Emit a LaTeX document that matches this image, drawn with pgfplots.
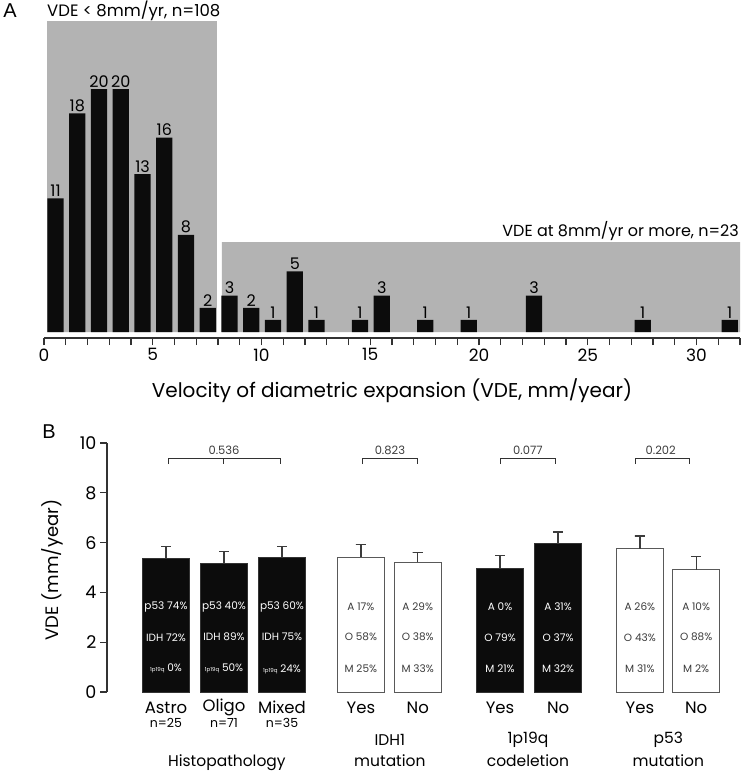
\documentclass[border=0pt]{standalone}
\usepackage{fontspec}
\setmainfont{Poppins}
\newfontfamily\panelfont{Liberation Sans}
\usepackage{pgfplots}
\pgfplotsset{compat=1.18}
\definecolor{boxgray}{RGB}{179,179,179}
\definecolor{barblack}{RGB}{12,12,12}
\definecolor{axgray}{RGB}{50,50,50}
\definecolor{txtgray}{RGB}{60,60,60}
\definecolor{errgray}{RGB}{60,60,60}
\newcommand{\fs}[1]{\fontsize{#1}{#1}\selectfont}
\pgfplotstableread{
x y
0.53 11
1.53 18
2.53 20
3.53 20
4.53 13
5.53 16
6.53 8
7.53 2
8.53 3
9.53 2
10.53 1
11.53 5
12.53 1
14.53 1
15.53 3
17.53 1
19.53 1
22.53 3
27.53 1
31.53 1
}\histdata
\pgfplotstableread{
x y
0 5.37
1 5.18
2 5.42
5.76 4.97
6.76 5.96
}\blackbars
\pgfplotstableread{
x y
3.36 5.41
4.34 5.22
8.17 5.76
9.14 4.91
}\whitebars
\begin{document}
\begin{tikzpicture}
\path[use as bounding box] (0,0) rectangle (744bp,-774bp);
% ---------- Panel A ----------
\begin{axis}[at={(44bp,-338bp)}, anchor=south west, scale only axis,
  width=696bp, height=317bp, xmin=0, xmax=32, ymin=-0.49, ymax=25.6,
  axis x line*=bottom, axis y line=none, axis line style={-},
  x axis line style={axgray, line width=1.3pt},
  xtick={0,5,...,30}, minor xtick={0,1,...,32},
  tick align=outside, major tick length=7bp, minor tick length=7bp,
  every tick/.style={axgray, line width=1.2pt},
  xticklabel style={font=\fs{17bp}, yshift=0bp},
  /pgf/number format/assume math mode=true, clip=false]
\addplot[fill=boxgray, draw=none] coordinates {(0.14,0)(0.14,25.6)(7.95,25.6)(7.95,0)} \closedcycle;
\addplot[fill=boxgray, draw=none] coordinates {(8.18,0)(8.18,7.4)(32,7.4)(32,0)} \closedcycle;
\addplot[ybar, bar width=0.74, bar shift=0pt, fill=barblack, draw=none,
  nodes near coords, nodes near coords style={font=\fs{16bp}, text=black, inner sep=1.5bp}]
  table[x=x, y=y] {\histdata};
\end{axis}
\node[inner sep=0pt] at (10bp,-10.5bp) {\panelfont\fontsize{20bp}{20bp}\selectfont A};
\node[font=\fs{16.5bp}, anchor=west, inner sep=0pt] at (47bp,-11bp) {VDE < 8mm/yr, n=108};
\node[font=\fs{16bp}, anchor=east, inner sep=0pt] at (739bp,-231bp) {VDE at 8mm/yr or more, n=23};
\node[font=\fs{20bp}] at (392bp,-391bp) {Velocity of diametric expansion (VDE, mm/year)};
% ---------- Panel B ----------
\begin{axis}[at={(107bp,-692bp)}, anchor=south west, scale only axis,
  width=628bp, height=249bp, xmin=-1.017, xmax=9.81, ymin=0, ymax=10,
  axis y line*=left, axis x line=none, axis line style={-},
  y axis line style={axgray, line width=1.2pt},
  ytick={0,2,...,10}, tick align=outside, major tick length=7bp,
  every tick/.style={axgray, line width=1.2pt},
  yticklabel style={font=\fs{17.5bp}},
  unbounded coords=jump,
  /pgf/number format/assume math mode=true, clip=false]
\addplot[ybar, bar width=0.81, bar shift=0pt, fill=barblack, draw=black!80, line width=0.8pt]
  table[x=x, y=y] {\blackbars};
\addplot[ybar, bar width=0.81, bar shift=0pt, fill=white, draw=black!65, line width=1pt]
  table[x=x, y=y] {\whitebars};
% error bars (upper only, with cap)
\addplot[errgray, line width=1.3pt] coordinates {
(0,5.37)(0,5.84)(-0.086,5.84)(0.086,5.84)(0,nan)
(1,5.18)(1,5.64)(0.914,5.64)(1.086,5.64)(1,nan)
(2,5.42)(2,5.84)(1.914,5.84)(2.086,5.84)(2,nan)
(3.36,5.41)(3.36,5.93)(3.274,5.93)(3.446,5.93)(3.36,nan)
(4.34,5.22)(4.34,5.61)(4.254,5.61)(4.426,5.61)(4.34,nan)
(5.76,4.97)(5.76,5.49)(5.674,5.49)(5.846,5.49)(5.76,nan)
(6.76,5.96)(6.76,6.43)(6.674,6.43)(6.846,6.43)(6.76,nan)
(8.17,5.76)(8.17,6.27)(8.084,6.27)(8.256,6.27)(8.17,nan)
(9.14,4.91)(9.14,5.43)(9.054,5.43)(9.226,5.43)
};
% brackets
\addplot[axgray, line width=1pt] coordinates {(0.05,9.15)(0.05,9.36)(1.97,9.36)(1.97,9.15)};
\addplot[axgray, line width=1pt] coordinates {(1,9.36)(1,9.15)};
\addplot[axgray, line width=1pt] coordinates {(3.38,9.15)(3.38,9.36)(4.34,9.36)(4.34,9.15)};
\addplot[axgray, line width=1pt] coordinates {(5.76,9.15)(5.76,9.36)(6.72,9.36)(6.72,9.15)};
\addplot[axgray, line width=1pt] coordinates {(8.09,9.15)(8.09,9.36)(9.02,9.36)(9.02,9.15)};
\node[font=\fs{11.5bp}, text=txtgray] at (axis cs:1,9.7) {0.536};
\node[font=\fs{11.5bp}, text=txtgray] at (axis cs:3.86,9.7) {0.823};
\node[font=\fs{11.5bp}, text=txtgray] at (axis cs:6.24,9.7) {0.077};
\node[font=\fs{11.5bp}, text=txtgray] at (axis cs:8.53,9.7) {0.202};
% text inside bars
\begin{scope}[every node/.style={font=\fs{10.5bp}, text=white}]
\node at (axis cs:0,3.41) {p53 74\%};
\node at (axis cs:0,2.2) {IDH 72\%};
\node at (axis cs:0,0.93) {{\fs{5.5bp}1p19q} 0\%};
\node at (axis cs:1,3.41) {p53 40\%};
\node at (axis cs:1,2.2) {IDH 89\%};
\node at (axis cs:1,0.93) {{\fs{5.5bp}1p19q} 50\%};
\node at (axis cs:2,3.41) {p53 60\%};
\node at (axis cs:2,2.2) {IDH 75\%};
\node at (axis cs:2,0.93) {{\fs{5.5bp}1p19q} 24\%};
\node at (axis cs:5.76,3.41) {A 0\%};
\node at (axis cs:5.76,2.2) {O 79\%};
\node at (axis cs:5.76,0.93) {M 21\%};
\node at (axis cs:6.76,3.41) {A 31\%};
\node at (axis cs:6.76,2.2) {O 37\%};
\node at (axis cs:6.76,0.93) {M 32\%};
\end{scope}
\begin{scope}[every node/.style={font=\fs{10.5bp}, text=txtgray}]
\node at (axis cs:3.36,3.41) {A 17\%};
\node at (axis cs:3.36,2.2) {O 58\%};
\node at (axis cs:3.36,0.93) {M 25\%};
\node at (axis cs:4.34,3.41) {A 29\%};
\node at (axis cs:4.34,2.2) {O 38\%};
\node at (axis cs:4.34,0.93) {M 33\%};
\node at (axis cs:8.17,3.41) {A 26\%};
\node at (axis cs:8.17,2.2) {O 43\%};
\node at (axis cs:8.17,0.93) {M 31\%};
\node at (axis cs:9.14,3.41) {A 10\%};
\node at (axis cs:9.14,2.2) {O 88\%};
\node at (axis cs:9.14,0.93) {M 2\%};
\end{scope}
% category labels
\begin{scope}[every node/.style={font=\fs{16.5bp}}]
\node at (axis cs:0,-0.62) {Astro};
\node at (axis cs:1,-0.62) {Oligo};
\node at (axis cs:2,-0.62) {Mixed};
\node at (axis cs:3.36,-0.62) {Yes};
\node at (axis cs:4.34,-0.62) {No};
\node at (axis cs:5.76,-0.62) {Yes};
\node at (axis cs:6.76,-0.62) {No};
\node at (axis cs:8.17,-0.62) {Yes};
\node at (axis cs:9.14,-0.62) {No};
\end{scope}
\begin{scope}[every node/.style={font=\fs{12.5bp}}]
\node at (axis cs:0,-1.25) {n=25};
\node at (axis cs:1,-1.25) {n=71};
\node at (axis cs:2,-1.25) {n=35};
\end{scope}
\begin{scope}[every node/.style={font=\fs{15.5bp}}]
\node at (axis cs:1.05,-2.85) {Histopathology};
\node at (axis cs:3.86,-1.93) {IDH1};
\node at (axis cs:3.86,-2.75) {mutation};
\node at (axis cs:6.24,-1.93) {1p19q};
\node at (axis cs:6.24,-2.75) {codeletion};
\node at (axis cs:8.66,-1.93) {p53};
\node at (axis cs:8.66,-2.75) {mutation};
\end{scope}
\end{axis}
\node[inner sep=0pt] at (49bp,-432bp) {\panelfont\fontsize{20bp}{20bp}\selectfont B};
\node[font=\fs{18bp}, rotate=90] at (52bp,-570bp) {VDE (mm/year)};
\end{tikzpicture}
\end{document}
